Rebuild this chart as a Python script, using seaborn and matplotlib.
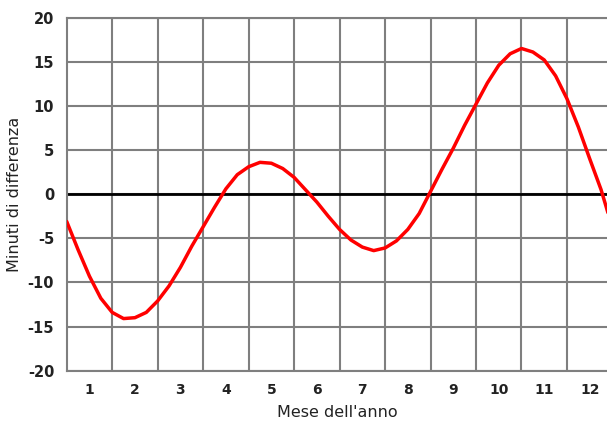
import matplotlib
matplotlib.use("Agg")
import matplotlib.pyplot as plt
import seaborn as sns
import pandas as pd

# month position (0 = 1 Jan, 1 month per unit) and minutes of difference
month_pos = [0.0, 0.25, 0.5, 0.75, 1.0, 1.25, 1.5, 1.75, 2.0, 2.25, 2.5, 2.75,
             3.0, 3.25, 3.5, 3.75, 4.0, 4.25, 4.5, 4.75, 5.0, 5.25, 5.5, 5.75,
             6.0, 6.25, 6.5, 6.75, 7.0, 7.25, 7.5, 7.75, 8.0, 8.25, 8.5, 8.75,
             9.0, 9.25, 9.5, 9.75, 10.0, 10.25, 10.5, 10.75, 11.0, 11.25, 11.5,
             11.75, 11.9]
minutes = [-3.1, -6.3, -9.3, -11.8, -13.4, -14.1, -14.0, -13.4, -12.1, -10.4,
           -8.3, -5.9, -3.7, -1.5, 0.6, 2.2, 3.1, 3.6, 3.5, 2.9, 1.9, 0.5,
           -0.9, -2.5, -4.0, -5.2, -6.0, -6.4, -6.1, -5.3, -4.0, -2.2, 0.3,
           2.8, 5.2, 7.8, 10.2, 12.6, 14.6, 15.9, 16.5, 16.1, 15.2, 13.4,
           10.8, 7.6, 4.0, 0.5, -2.1]
month_labels = ["1", "2", "3", "4", "5", "6", "7", "8", "9", "10", "11", "12"]
y_ticks = [-20, -15, -10, -5, 0, 5, 10, 15, 20]

df = pd.DataFrame({"mese": month_pos, "minuti": minutes})

sns.set_style("white")
plt.rcParams["font.family"] = ["DejaVu Sans"]

fig = plt.figure(figsize=(6.07, 4.29), dpi=100)
ax = fig.add_axes([0.1099, 0.136, 0.8901, 0.823])

grid_col = "#7f7f7f"
ax.set_xlim(0, 11.88)
ax.set_ylim(-20, 20)

ax.set_xticks(list(range(1, 12)))
ax.set_xticklabels([])
ax.set_xticks([i + 0.5 for i in range(12)], minor=True)
ax.set_xticklabels(month_labels, minor=True, fontsize=10, fontweight="bold",
                   color="#222222")
ax.set_yticks(y_ticks)
ax.set_yticklabels([str(v) for v in y_ticks], fontsize=10.5, fontweight="bold",
                   color="#222222")
ax.tick_params(axis="both", which="both", length=0)
ax.tick_params(axis="x", which="minor", pad=9)
ax.tick_params(axis="y", pad=9)
ax.grid(True, which="major", color=grid_col, linewidth=1.5)
ax.set_axisbelow(True)

for side in ["left", "bottom", "top"]:
    ax.spines[side].set_color(grid_col)
    ax.spines[side].set_linewidth(1.5)
ax.spines["right"].set_visible(False)

ax.axhline(0, color="black", linewidth=2, zorder=2)

sns.lineplot(data=df, x="mese", y="minuti", ax=ax, color="#ff0000",
             linewidth=2.5, zorder=3)

ax.set_xlabel("Mese dell'anno", fontsize=11.5, color="#222222", labelpad=6)
ax.set_ylabel("Minuti di differenza", fontsize=11.5, color="#222222", labelpad=4)

fig.savefig("out.png", dpi=100)
